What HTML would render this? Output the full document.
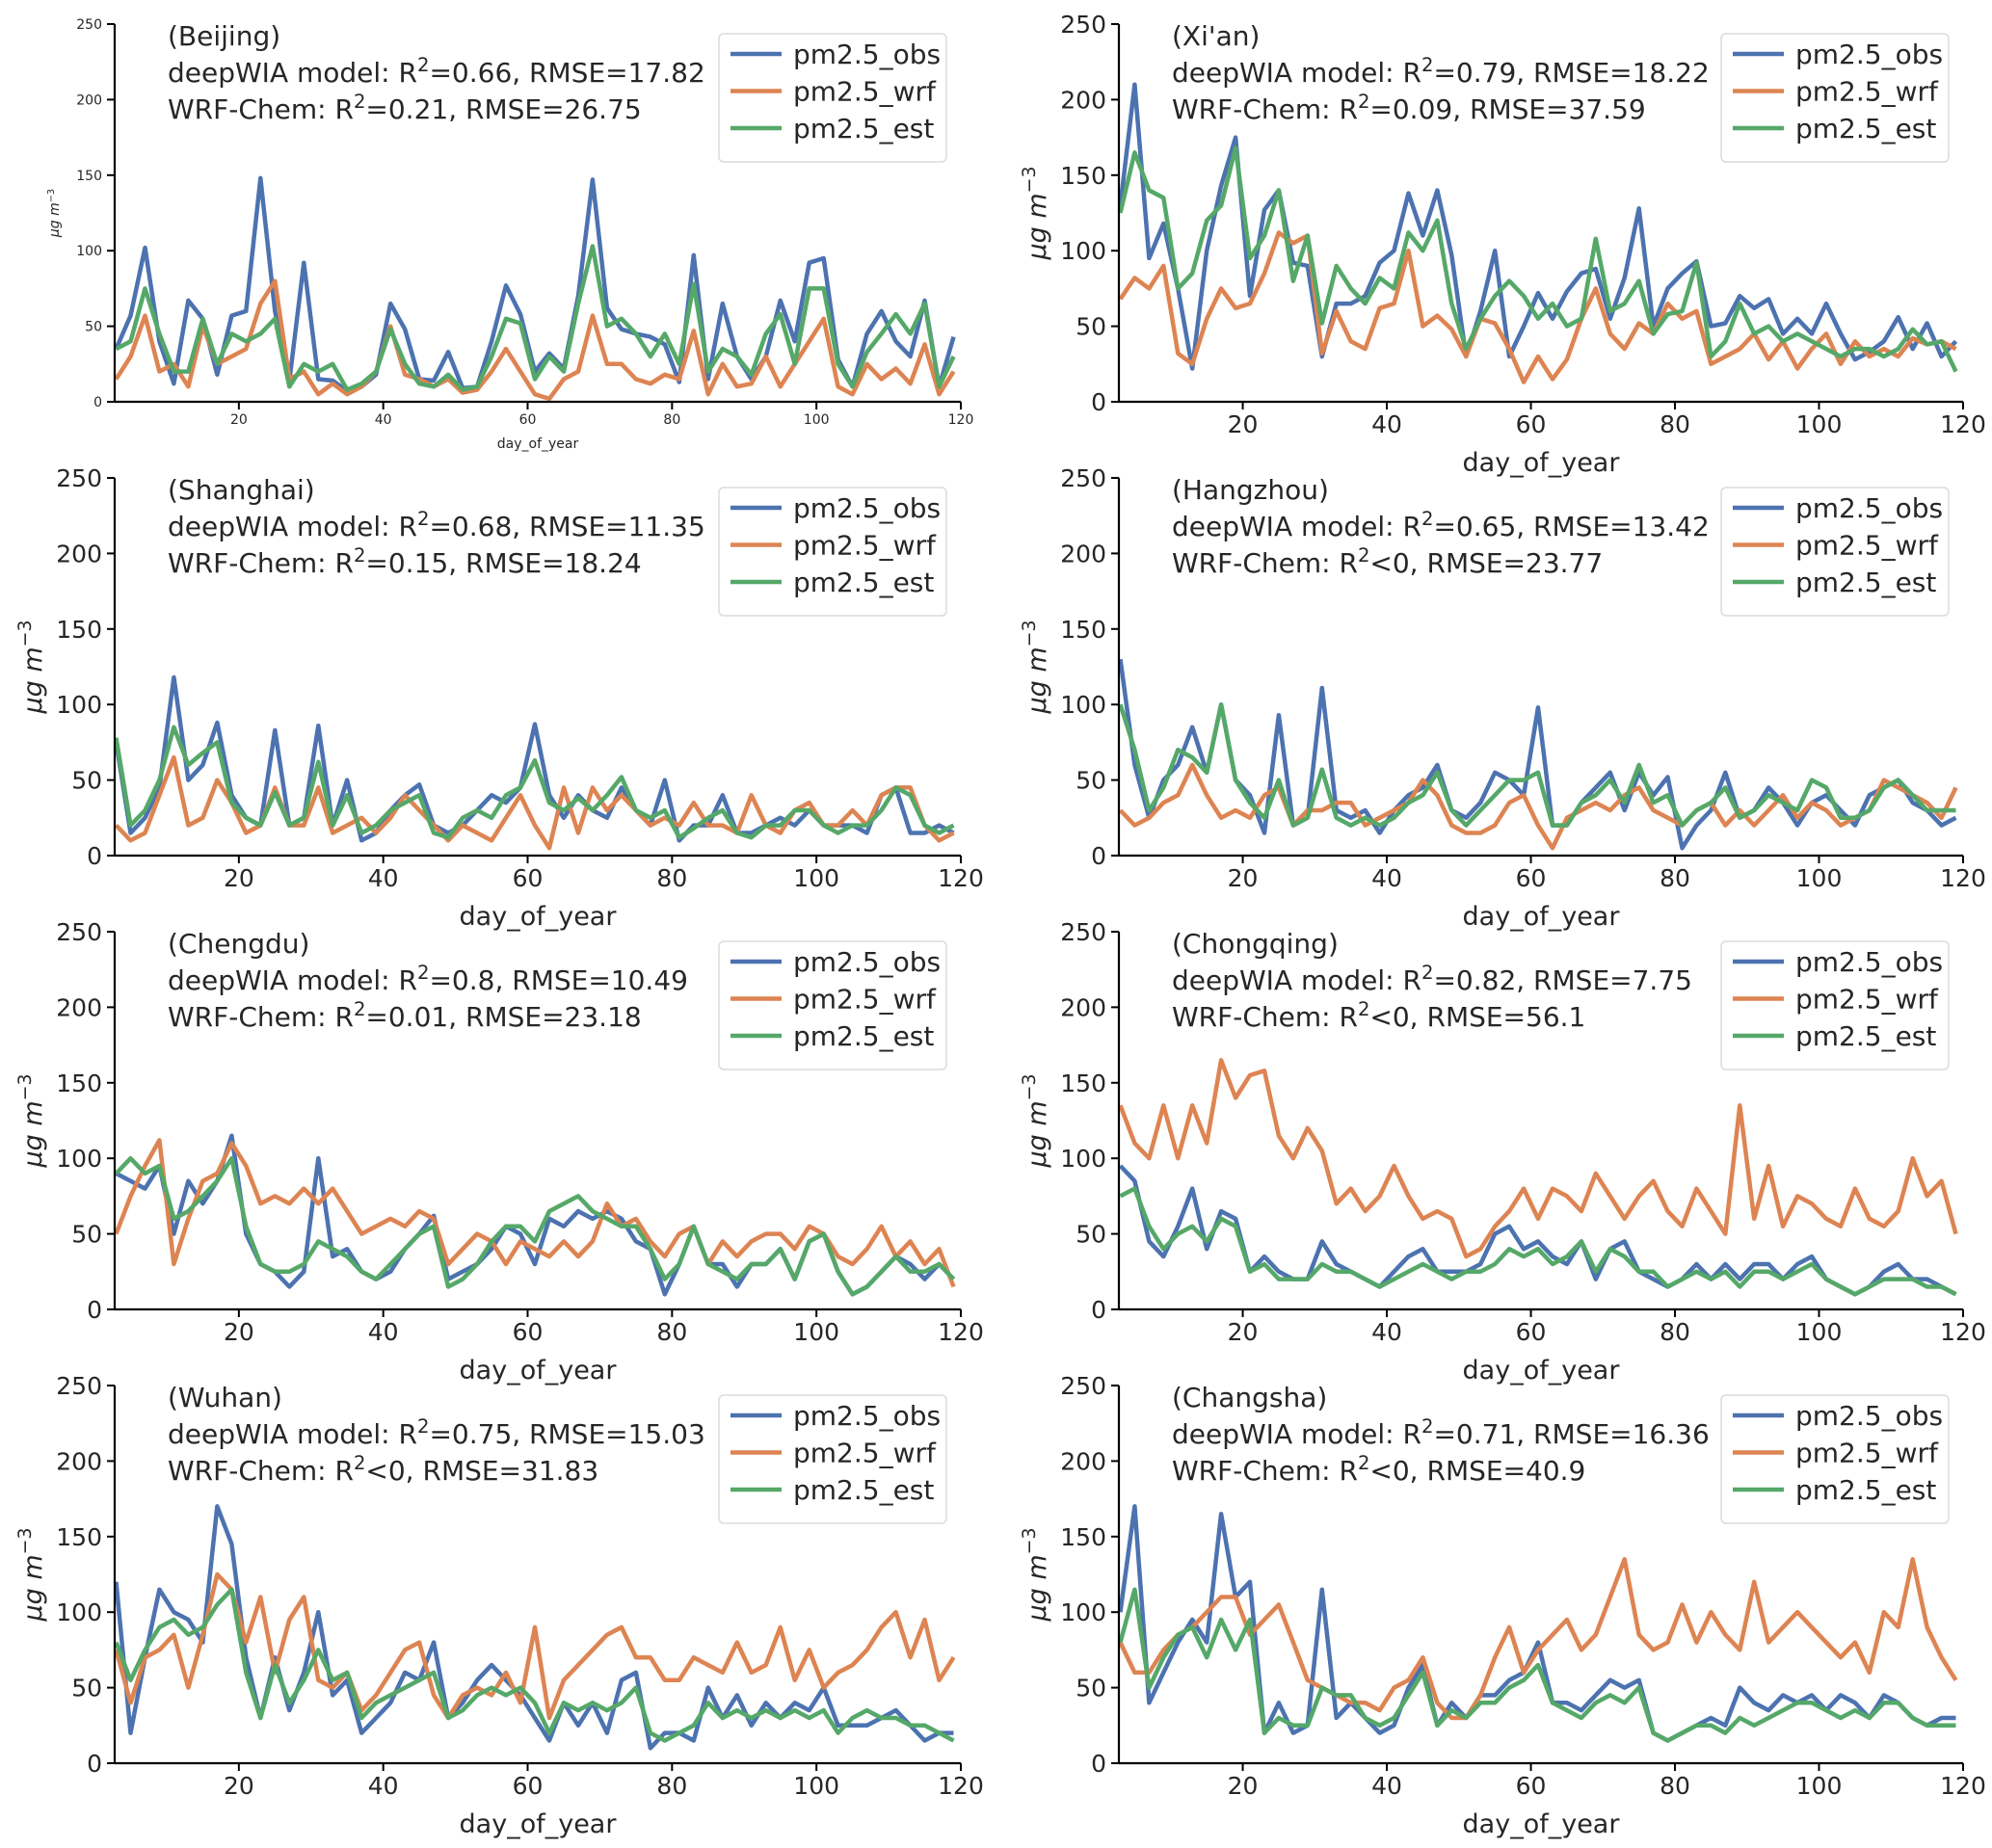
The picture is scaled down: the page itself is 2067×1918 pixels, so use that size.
<!DOCTYPE html>
<html><head><meta charset="utf-8">
<style>
html,body{margin:0;padding:0;background:#fff;}
svg{display:block;font-family:"DejaVu Sans","Liberation Sans",sans-serif;}
</style></head>
<body>
<svg id="chart" width="2067" height="1918" viewBox="0 0 2067 1918" xmlns="http://www.w3.org/2000/svg"></svg>
<script>
const days = [3,5,7,9,11,13,15,17,19,21,23,25,27,29,31,33,35,37,39,41,43,45,47,49,51,53,55,57,59,61,63,65,67,69,71,73,75,77,79,81,83,85,87,89,91,93,95,97,99,101,103,105,107,109,111,113,115,117,119];
const xTicks = [20,40,60,80,100,120];
const yTicks = [0,50,100,150,200,250];
const seriesNames = ["pm2.5_obs","pm2.5_wrf","pm2.5_est"];
const cities = ["Beijing","Xi'an","Shanghai","Hangzhou","Chengdu","Chongqing","Wuhan","Changsha"];
const deepStats = ["R<tspan baseline-shift='super' font-size='70%'>2</tspan>=0.66, RMSE=17.82","R<tspan baseline-shift='super' font-size='70%'>2</tspan>=0.79, RMSE=18.22","R<tspan baseline-shift='super' font-size='70%'>2</tspan>=0.68, RMSE=11.35","R<tspan baseline-shift='super' font-size='70%'>2</tspan>=0.65, RMSE=13.42","R<tspan baseline-shift='super' font-size='70%'>2</tspan>=0.8, RMSE=10.49","R<tspan baseline-shift='super' font-size='70%'>2</tspan>=0.82, RMSE=7.75","R<tspan baseline-shift='super' font-size='70%'>2</tspan>=0.75, RMSE=15.03","R<tspan baseline-shift='super' font-size='70%'>2</tspan>=0.71, RMSE=16.36"];
const wrfStats = ["R<tspan baseline-shift='super' font-size='70%'>2</tspan>=0.21, RMSE=26.75","R<tspan baseline-shift='super' font-size='70%'>2</tspan>=0.09, RMSE=37.59","R<tspan baseline-shift='super' font-size='70%'>2</tspan>=0.15, RMSE=18.24","R<tspan baseline-shift='super' font-size='70%'>2</tspan>&lt;0, RMSE=23.77","R<tspan baseline-shift='super' font-size='70%'>2</tspan>=0.01, RMSE=23.18","R<tspan baseline-shift='super' font-size='70%'>2</tspan>&lt;0, RMSE=56.1","R<tspan baseline-shift='super' font-size='70%'>2</tspan>&lt;0, RMSE=31.83","R<tspan baseline-shift='super' font-size='70%'>2</tspan>&lt;0, RMSE=40.9"];

const beijingObs = [35,57,102,40,12,67,55,18,57,60,148,60,14,92,15,14,7,10,18,65,48,15,14,33,9,10,40,77,58,20,32,22,70,147,62,48,45,43,38,13,97,15,65,30,15,30,67,40,92,95,28,10,45,60,40,30,67,10,43];
const beijingWrf = [15,30,57,20,25,10,50,25,30,35,65,80,15,20,5,12,5,10,20,50,18,15,10,15,6,8,20,35,20,5,2,15,20,57,25,25,15,12,18,15,47,5,25,10,12,30,10,25,40,55,10,5,25,15,22,12,38,5,20];
const beijingEst = [35,40,75,45,20,20,55,25,45,40,45,55,10,25,20,25,8,12,20,48,25,12,10,18,8,10,30,55,52,15,30,20,65,103,50,55,45,30,45,25,78,20,35,30,18,45,58,25,75,75,25,10,33,45,58,45,65,10,30];
const xianObs = [130,210,95,118,75,22,100,143,175,70,127,140,92,90,30,65,65,70,92,100,138,110,140,97,30,60,100,30,50,72,55,73,85,88,55,82,128,50,75,85,93,50,52,70,62,68,45,55,45,65,45,28,33,40,56,35,52,30,40];
const xianWrf = [68,82,75,90,32,25,55,75,62,65,85,112,105,110,32,60,40,35,62,65,100,50,57,48,30,55,52,35,13,30,15,28,55,75,45,35,52,45,65,55,60,25,30,35,45,28,40,22,35,45,25,40,30,35,30,42,38,40,35];
const xianEst = [125,165,140,135,75,85,120,130,168,95,110,140,80,110,52,90,75,65,82,75,112,100,120,65,35,55,70,80,70,55,65,50,55,108,60,65,80,45,58,60,92,30,40,65,45,50,40,45,40,35,30,35,35,30,35,48,38,40,20];
const shanghaiObs = [75,15,25,45,118,50,60,88,40,25,20,83,20,25,86,20,50,10,15,30,40,47,20,15,20,30,40,35,45,87,40,25,40,30,25,45,30,20,50,10,20,20,40,15,15,20,25,20,30,20,20,20,15,40,45,15,15,20,15];
const shanghaiWrf = [20,10,15,40,65,20,25,50,35,15,20,45,20,20,45,15,20,25,15,25,40,30,20,10,20,15,10,25,40,20,5,45,15,45,30,40,30,20,25,20,35,20,20,15,40,20,15,30,35,20,20,30,20,40,45,45,20,10,15];
const shanghaiEst = [78,20,30,50,85,60,68,75,35,25,20,42,20,25,62,20,40,15,20,30,35,40,15,12,25,30,25,40,45,63,35,30,38,30,40,52,30,25,30,12,18,25,30,15,12,20,20,30,30,20,15,20,20,30,45,40,20,15,20];
const hangzhouObs = [130,60,25,50,60,85,55,100,50,40,15,93,20,25,111,30,25,30,15,30,40,45,60,30,25,35,55,50,40,98,20,20,35,45,55,30,55,40,52,5,20,30,55,25,30,45,35,20,35,40,30,20,40,45,50,35,30,20,25];
const hangzhouWrf = [30,20,25,35,40,60,40,25,30,25,40,45,20,30,30,35,35,20,25,30,35,50,40,20,15,15,20,35,40,20,5,25,30,35,30,40,45,30,25,20,30,35,20,30,20,30,40,25,35,30,20,25,30,50,45,40,35,25,45];
const hangzhouEst = [100,70,30,45,70,65,55,100,50,35,25,50,20,25,57,25,20,25,20,25,35,40,55,30,20,30,40,50,50,55,20,20,35,40,50,35,60,35,40,20,30,35,45,25,30,40,35,30,50,45,25,25,30,45,50,40,30,30,30];
const chengduObs = [90,85,80,95,50,85,70,85,115,50,30,25,15,25,100,35,40,25,20,25,40,50,62,20,25,30,40,55,50,30,60,55,65,60,65,60,45,40,10,30,55,30,30,15,30,30,40,20,45,50,25,10,15,25,35,30,20,30,20];
const chengduWrf = [50,75,95,112,30,60,85,90,110,95,70,75,70,80,70,80,65,50,55,60,55,65,60,30,40,50,45,30,45,40,35,45,35,45,70,55,60,45,35,50,55,30,45,35,45,50,50,40,55,50,35,30,40,55,35,45,30,40,15];
const chengduEst = [90,100,90,95,60,65,75,85,100,55,30,25,25,30,45,40,35,25,20,30,40,50,55,15,20,30,45,55,55,45,65,70,75,65,60,55,55,40,20,30,55,30,25,20,30,30,40,20,45,50,25,10,15,25,35,25,25,30,20];
const chongqingObs = [95,85,45,35,55,80,40,65,60,25,35,25,20,20,45,30,25,20,15,25,35,40,25,25,25,30,50,55,40,45,35,30,45,20,40,45,25,20,15,20,30,20,30,20,30,30,20,30,35,20,15,10,15,25,30,20,20,15,10];
const chongqingWrf = [135,110,100,135,100,135,110,165,140,155,158,115,100,120,105,70,80,65,75,95,75,60,65,60,35,40,55,65,80,60,80,75,65,90,75,60,75,85,65,55,80,65,50,135,60,95,55,75,70,60,55,80,60,55,65,100,75,85,50];
const chongqingEst = [75,80,55,40,50,55,45,60,55,25,30,20,20,20,30,25,25,20,15,20,25,30,25,20,25,25,30,40,35,40,30,35,45,25,40,35,25,25,15,20,25,20,25,15,25,25,20,25,30,20,15,10,15,20,20,20,15,15,10];
const wuhanObs = [120,20,70,115,100,95,80,170,145,70,30,70,35,60,100,45,55,20,30,40,60,55,80,30,40,55,65,55,45,30,15,40,25,40,20,55,60,10,20,20,15,50,30,45,25,40,30,40,35,50,25,25,25,30,35,25,15,20,20];
const wuhanWrf = [75,40,70,75,85,50,85,125,115,80,110,60,95,110,55,50,60,35,45,60,75,80,45,30,45,50,45,60,40,90,30,55,65,75,85,90,70,70,55,55,70,65,60,80,60,65,90,55,75,50,60,65,75,90,100,70,95,55,70];
const wuhanEst = [80,55,75,90,95,85,90,105,115,60,30,65,40,55,75,55,60,30,40,45,50,55,60,30,35,45,50,45,50,40,20,40,35,40,35,40,50,20,15,20,25,40,30,35,30,35,30,35,30,35,20,30,35,30,30,25,25,20,15];
const changshaObs = [100,170,40,60,80,95,80,165,110,120,20,40,20,25,115,30,40,30,20,25,50,65,25,40,30,45,45,55,60,80,40,40,35,45,55,50,55,20,15,20,25,30,25,50,40,35,45,40,45,35,45,40,30,45,40,30,25,30,30];
const changshaWrf = [80,60,60,75,85,90,100,110,110,85,95,105,80,55,50,45,40,40,35,50,55,70,40,30,30,45,70,90,60,75,85,95,75,85,110,135,85,75,80,105,80,100,85,75,120,80,90,100,90,80,70,80,60,100,90,135,90,70,55];
const changshaEst = [80,115,50,70,85,90,70,95,75,95,20,30,25,25,50,45,45,30,25,30,45,60,25,35,30,40,40,50,55,65,40,35,30,40,45,40,50,20,15,20,25,25,20,30,25,30,35,40,40,35,30,35,30,40,40,30,25,25,25];

const obsSets = [beijingObs,xianObs,shanghaiObs,hangzhouObs,chengduObs,chongqingObs,wuhanObs,changshaObs];
const wrfSets = [beijingWrf,xianWrf,shanghaiWrf,hangzhouWrf,chengduWrf,chongqingWrf,wuhanWrf,changshaWrf];
const estSets = [beijingEst,xianEst,shanghaiEst,hangzhouEst,chengduEst,chongqingEst,wuhanEst,changshaEst];

const NS = "http://www.w3.org/2000/svg";
const svg = document.getElementById('chart');
const colors = ["#4c72b0","#dd8452","#55a868"];
const colX = [[119,997],[1161,2037]];
const rowY = [[25,417],[496,888],[967,1359],[1438,1830]];
const X_MIN = 2.8, X_MAX = 120, Y_MAX = 250;

function mk(tag, attrs, parent){
  const e = document.createElementNS(NS, tag);
  for (const k in attrs) e.setAttribute(k, attrs[k]);
  (parent||svg).appendChild(e);
  return e;
}

cities.forEach((city, p) => {
  const col = p % 2, row = Math.floor(p / 2);
  const [x0, x1] = colX[col], [yt, yb] = rowY[row];
  const xs = d => x0 + (d - X_MIN) / (X_MAX - X_MIN) * (x1 - x0);
  const ys = v => yb - v / Y_MAX * (yb - yt);
  const small = p === 0;
  const tfs = small ? 14 : 25;
  const slug = city.toLowerCase().replace(/[^a-z]/g,'');

  const g = mk('g', {});
  
  

  [obsSets[p], wrfSets[p], estSets[p]].forEach((vals, s) => {
    let d = '';
    for (let i = 0; i < Math.min(vals.length, days.length); i++) {
      d += (i ? 'L' : 'M') + xs(days[i]).toFixed(1) + ',' + ys(vals[i]).toFixed(1);
    }
    const path = mk('path', {d: d, fill: 'none', stroke: colors[s], 'stroke-width': 4.5, 'stroke-linejoin': 'round'}, g);
    
    
  });

  const ya = mk('line', {x1: x0, y1: yt, x2: x0, y2: yb, stroke: '#000', 'stroke-width': 2.2}, g);
  
  
  const xa = mk('line', {x1: x0, y1: yb, x2: x1, y2: yb, stroke: '#000', 'stroke-width': 2.2}, g);
  
  

  yTicks.forEach(t => {
    const y = ys(t);
    mk('line', {x1: x0 - 8, y1: y, x2: x0, y2: y, stroke: '#000', 'stroke-width': 2}, g);
    const tx = mk('text', {x: x0 - 13, y: y + tfs * 0.36, 'font-size': tfs, 'text-anchor': 'end', fill: '#262626'}, g);
    tx.textContent = t;
    
    
  });
  xTicks.forEach(t => {
    const x = xs(t);
    mk('line', {x1: x, y1: yb, x2: x, y2: yb + 8, stroke: '#000', 'stroke-width': 2}, g);
    const tx = mk('text', {x: x, y: yb + 12 + tfs * 0.8, 'font-size': tfs, 'text-anchor': 'middle', fill: '#262626'}, g);
    tx.textContent = t;
    
    
  });

  const xl = mk('text', {x: (x0 + x1) / 2, y: small ? yb + 48 : yb + 72, 'font-size': small ? 14 : 27, 'text-anchor': 'middle', fill: '#262626'}, g);
  xl.textContent = 'day_of_year';
  
  
  const ylx = small ? x0 - 58 : x0 - 76, yly = (yt + yb) / 2;
  const yl = mk('text', {x: ylx, y: yly, 'font-size': small ? 14 : 27, 'text-anchor': 'middle', fill: '#262626', transform: 'rotate(-90 ' + ylx + ' ' + yly + ')'}, g);
  yl.innerHTML = '<tspan font-style="italic">μg m</tspan><tspan baseline-shift="super" font-size="70%">−3</tspan>';
  
  

  const ax = x0 + 55;
  const lines = ['(' + city + ')', 'deepWIA model: ' + deepStats[p], 'WRF-Chem: ' + wrfStats[p]];
  lines.forEach((l, i) => {
    const t = mk('text', {x: ax, y: yt + 22 + i * 38, 'font-size': 28, fill: '#262626'}, g);
    t.innerHTML = l;
    
    
  });

  const lx = x1 - 251, ly = yt + 10;
  const lg = mk('g', {}, g);
  
  
  mk('rect', {x: lx, y: ly, width: 236, height: 133, rx: 5, fill: '#fff', stroke: '#d8d8d8', 'stroke-width': 1.5, opacity: 0.9}, lg);
  seriesNames.forEach((n, s) => {
    const ey = ly + 21 + s * 38.5;
    const le = mk('g', {}, lg);
    
    
    mk('line', {x1: lx + 12, y1: ey, x2: lx + 65, y2: ey, stroke: colors[s], 'stroke-width': 4.5}, le);
    const t = mk('text', {x: lx + 77, y: ey + 10, 'font-size': 28, fill: '#262626'}, le);
    t.textContent = n;
  });
});
</script>
</body></html>
